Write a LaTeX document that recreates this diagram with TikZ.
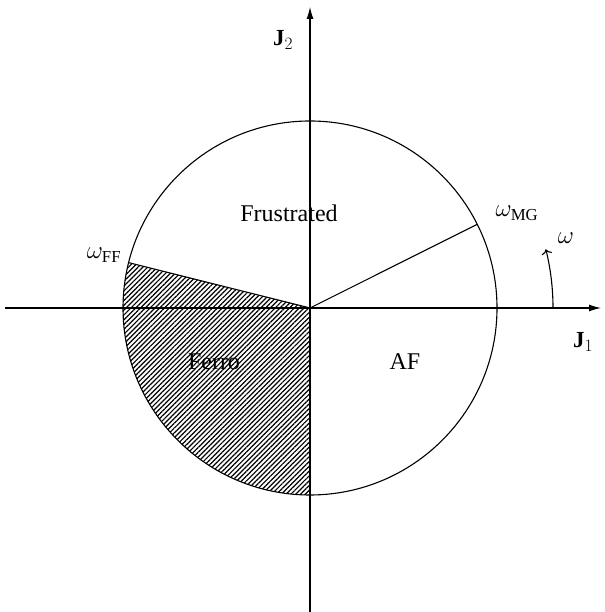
\documentclass[tikz,border=0pt]{standalone}
\usepackage{fontspec}
\setmainfont{Liberation Serif}
\usetikzlibrary{patterns.meta,arrows.meta}
\tikzset{
  phase/.style={font=\fontsize{24}{28}\selectfont},
  axislabel/.style={font=\fontsize{23}{27}\selectfont\bfseries},
  hatch/.style={pattern={Lines[angle=45,distance=3.4pt,line width=1.2pt]}},
}
\begin{document}
\begin{tikzpicture}[x=1pt,y=1pt,line width=1.1pt]
\useasboundingbox (0,0) rectangle (604,612);
% origin and the two phase boundaries
\coordinate (O) at (310,304);
\path (O) ++(26.57:187) coordinate (MG);
\path (O) ++(165.96:187) coordinate (FF);
\coordinate (xl) at (5,304);
\coordinate (xr) at (601,304);
\coordinate (yb) at (310,0);
\coordinate (yt) at (310,605);
% ferro sector
\fill[hatch] (O) -- (FF) arc (165.96:270:187) -- cycle;
\draw (O) circle (187);
\draw (O) -- (MG);
\draw (O) -- (FF);
% axes
\draw[-{Latex[length=12pt,width=7pt]}] (xl) -- (xr);
\draw[-{Latex[length=12pt,width=7pt]}] (yb) -- (yt);
\node[axislabel] (J1) at (583,270) {J$_1$};
\node[axislabel] (J2) at (283,572) {J$_2$};
% angle
\draw[-{To[length=5pt]}] (O) ++(0:243) arc (0:14:243);
\node[phase] (w) at (566,374) {$\omega$};
\node[phase] (wMG) at (517,399) {$\omega_{\mathrm{MG}}$};
\node[phase] (wFF) at (104,357) {$\omega_{\mathrm{FF}}$};
% phases
\node[phase] (fru) at (289,399) {Frustrated};
\node[phase] (ferro) at (214,250) {Ferro};
\node[phase] (af) at (405,250) {AF};
\end{tikzpicture}
\end{document}
